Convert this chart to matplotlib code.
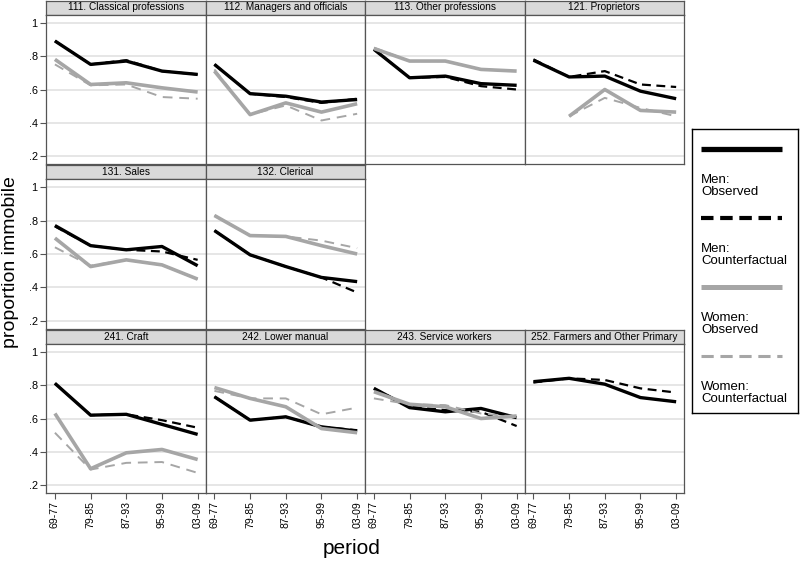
import numpy as np
import matplotlib
matplotlib.use("Agg")
import matplotlib.pyplot as plt

plt.rcParams['font.family'] = ['Liberation Sans', 'DejaVu Sans']

periods = ['69-77', '79-85', '87-93', '95-99', '03-09']

titles = ['111. Classical professions', '112. Managers and officials',
          '113. Other professions', '121. Proprietors',
          '131. Sales', '132. Clerical',
          '241. Craft', '242. Lower manual', '243. Service workers',
          '252. Farmers and Other Primary']
grid_pos = [(0, 0), (0, 1), (0, 2), (0, 3),
            (1, 0), (1, 1),
            (2, 0), (2, 1), (2, 2), (2, 3)]

nan = np.nan
men_obs = [
    [0.89, 0.75, 0.77, 0.71, 0.69],
    [0.75, 0.575, 0.56, 0.525, 0.54],
    [0.84, 0.67, 0.68, 0.635, 0.625],
    [0.775, 0.675, 0.68, 0.59, 0.545],
    [0.77, 0.65, 0.625, 0.645, 0.53],
    [0.74, 0.595, 0.525, 0.46, 0.435],
    [0.81, 0.62, 0.625, 0.565, 0.505],
    [0.73, 0.59, 0.61, 0.55, 0.525],
    [0.78, 0.665, 0.64, 0.66, 0.605],
    [0.82, 0.84, 0.805, 0.725, 0.70],
]
men_cf = [
    [0.89, 0.75, 0.775, 0.71, 0.69],
    [0.75, 0.575, 0.555, 0.52, 0.545],
    [0.84, 0.67, 0.675, 0.62, 0.60],
    [0.78, 0.675, 0.71, 0.63, 0.615],
    [0.765, 0.65, 0.625, 0.615, 0.565],
    [0.74, 0.595, 0.525, 0.46, 0.37],
    [0.81, 0.62, 0.625, 0.59, 0.545],
    [0.73, 0.59, 0.61, 0.55, 0.53],
    [0.78, 0.67, 0.65, 0.64, 0.555],
    [0.815, 0.84, 0.83, 0.78, 0.755],
]
women_obs = [
    [0.78, 0.63, 0.64, 0.61, 0.585],
    [0.71, 0.45, 0.52, 0.465, 0.515],
    [0.845, 0.77, 0.77, 0.72, 0.71],
    [nan, 0.44, 0.60, 0.475, 0.465],
    [0.695, 0.525, 0.565, 0.535, 0.45],
    [0.83, 0.71, 0.705, 0.65, 0.60],
    [0.63, 0.30, 0.395, 0.415, 0.355],
    [0.785, 0.72, 0.67, 0.54, 0.515],
    [0.76, 0.685, 0.67, 0.60, 0.615],
    [nan, nan, nan, nan, nan],
]
women_cf = [
    [0.75, 0.625, 0.63, 0.555, 0.545],
    [0.72, 0.45, 0.505, 0.415, 0.455],
    [0.85, 0.77, 0.77, 0.72, 0.71],
    [nan, 0.44, 0.55, 0.49, 0.44],
    [0.64, 0.53, 0.565, 0.535, 0.45],
    [0.83, 0.71, 0.705, 0.68, 0.635],
    [0.515, 0.295, 0.335, 0.34, 0.275],
    [0.765, 0.72, 0.72, 0.625, 0.665],
    [0.72, 0.685, 0.68, 0.63, 0.61],
    [nan, nan, nan, nan, nan],
]

legend_labels = ['Men:\nObserved', 'Men:\nCounterfactual',
                 'Women:\nObserved', 'Women:\nCounterfactual']

W, H = 800, 564
GRAY = '#a6a6a6'
styles = [dict(color='black', lw=2.4, ls='-'),
          dict(color='black', lw=1.6, dashes=(4, 2.5)),
          dict(color=GRAY, lw=2.6, ls='-'),
          dict(color=GRAY, lw=1.4, dashes=(5, 3.5))]
edge = '#555555'


def fax(x0, y0, w, h):
    # pixel box (top-left origin) -> figure axes
    return fig.add_axes([x0 / W, 1 - (y0 + h) / H, w / W, h / H])


fig = plt.figure(figsize=(8, 5.64), dpi=100)

left, pw = 46, 159.5
row_top = [0.5, 165, 329.5]
strip_h, plot_h = 14, 149.5
x = np.arange(len(periods))

for i, (r, c) in enumerate(grid_pos):
    x0 = left + c * pw
    y0 = row_top[r]
    # strip
    sax = fax(x0, y0, pw, strip_h)
    sax.set_facecolor('#d9d9d9')
    sax.set_xticks([])
    sax.set_yticks([])
    for s in sax.spines.values():
        s.set_color(edge)
        s.set_linewidth(0.9)
    sax.text(0.5, 0.5, titles[i], ha='center', va='center', fontsize=7.3,
             transform=sax.transAxes)

    ax = fax(x0, y0 + strip_h, pw, plot_h)
    for series, st in zip([men_obs, men_cf, women_obs, women_cf], styles):
        ax.plot(x, series[i], solid_capstyle='butt', **st)
    ax.set_xlim(-0.25, 4.22)
    ax.set_ylim(0.155, 1.048)
    ax.set_yticks([0.2, 0.4, 0.6, 0.8, 1.0])
    ax.grid(axis='y', color='#e4e4e4', lw=1.3)
    ax.set_axisbelow(True)
    for s in ax.spines.values():
        s.set_color(edge)
        s.set_linewidth(0.9)
    if c == 0:
        ax.set_yticklabels(['.2', '.4', '.6', '.8', '1'], fontsize=7.8)
        ax.tick_params(axis='y', length=4, width=0.8, color=edge, pad=2)
    else:
        ax.tick_params(axis='y', length=0, labelleft=False)
    ax.set_xticks(x)
    if r == 2:
        ax.set_xticklabels(periods, rotation=90, fontsize=7.6)
        ax.tick_params(axis='x', length=4, width=0.8, color=edge, pad=2)
    else:
        ax.tick_params(axis='x', length=0, labelbottom=False)

# legend box
lax = fax(692, 129, 106, 284)
lax.set_xlim(0, 106)
lax.set_ylim(284, 0)
lax.set_xticks([])
lax.set_yticks([])
for s in lax.spines.values():
    s.set_color('black')
    s.set_linewidth(1.0)
key_styles = [dict(color='black', lw=3.8, ls='-'),
              dict(color='black', lw=3.0, dashes=(3, 1.6)),
              dict(color=GRAY, lw=3.6, ls='-'),
              dict(color=GRAY, lw=2.2, dashes=(4, 2.2))]
for k, (lab, st) in enumerate(zip(legend_labels, key_styles)):
    ky = 20 + 69 * k
    lax.plot([9, 90], [ky, ky], solid_capstyle='butt', **st)
    lax.text(9, ky + 37, lab, ha='left', va='center', fontsize=9.5,
             linespacing=1.0)

fig.text(11 / W, 1 - 262 / H, 'proportion immobile', rotation=90,
         ha='center', va='center', fontsize=14)
fig.text(352 / W, 1 - 549 / H, 'period', ha='center', va='center',
         fontsize=15)

fig.savefig('out.png', dpi=100)
